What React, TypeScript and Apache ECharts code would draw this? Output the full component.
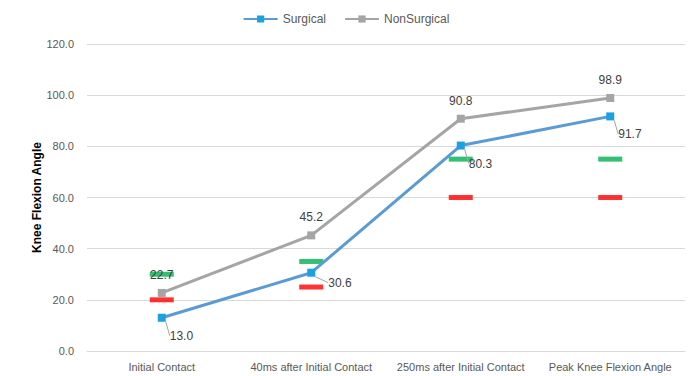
import React, { useEffect, useRef } from "react";
import * as echarts from "echarts";

const categories = [
  "Initial Contact",
  "40ms after Initial Contact",
  "250ms after Initial Contact",
  "Peak Knee Flexion Angle",
];
const surgical = [13.0, 30.6, 80.3, 91.7];
const nonSurgical = [22.7, 45.2, 90.8, 98.9];
const upperRef = [30, 35, 75, 75];
const lowerRef = [20, 25, 60, 60];
const yTicks = { min: 0, max: 120, interval: 20 };

const FONT = "'Liberation Sans', Arial, sans-serif";
const TEXT = "#595959";

export default function App() {
  const ref = useRef<HTMLDivElement>(null);

  useEffect(() => {
    if (!ref.current) return;
    const chart = echarts.init(ref.current, undefined, { renderer: "svg" });
    chart.setOption({
      animation: false,
      textStyle: { fontFamily: FONT },
      legend: {
        top: 8,
        left: "center",
        itemWidth: 34,
        itemHeight: 9,
        itemGap: 18,
        textStyle: { color: TEXT, fontSize: 12, fontFamily: FONT },
        data: ["Surgical", "NonSurgical"],
      },
      grid: { left: 87, right: 7, top: 44, bottom: 25 },
      xAxis: {
        type: "category",
        data: categories,
        axisLine: { lineStyle: { color: "#d9d9d9" } },
        axisTick: { show: false },
        axisLabel: { color: TEXT, fontSize: 11, margin: 10, interval: 0, fontFamily: FONT },
      },
      yAxis: {
        type: "value",
        min: yTicks.min,
        max: yTicks.max,
        interval: yTicks.interval,
        name: "Knee Flexion Angle",
        nameLocation: "middle",
        nameGap: 44,
        nameMoveOverlap: false,
        nameTextStyle: { color: "#000", fontSize: 12, fontWeight: "bold", fontFamily: FONT },
        axisLine: { show: false },
        axisTick: { show: false },
        axisLabel: {
          color: TEXT,
          fontSize: 11,
          margin: 13,
          fontFamily: FONT,
          formatter: (v: number) => v.toFixed(1),
        },
        splitLine: { lineStyle: { color: "#d9d9d9" } },
      },
      series: [
        {
          name: "upper",
          type: "scatter",
          data: upperRef,
          symbol: "rect",
          symbolSize: [24, 5],
          itemStyle: { color: "#00b050" },
          z: 1,
        },
        {
          name: "lower",
          type: "scatter",
          data: lowerRef,
          symbol: "rect",
          symbolSize: [24, 5],
          itemStyle: { color: "#ff0000" },
          z: 1,
        },
        {
          name: "NonSurgical",
          type: "line",
          data: nonSurgical,
          symbol: "rect",
          symbolSize: 8,
          lineStyle: { color: "#a5a5a5", width: 3 },
          itemStyle: { color: "#a5a5a5" },
          label: {
            show: true,
            position: "top",
            distance: 8,
            color: "#404040",
            fontSize: 12,
            fontFamily: FONT,
            formatter: (p: any) => p.value.toFixed(1),
          },
          z: 3,
        },
        {
          name: "Surgical",
          type: "line",
          data: surgical,
          symbol: "rect",
          symbolSize: 8,
          lineStyle: { color: "#5b9bd5", width: 3 },
          itemStyle: { color: "#1ba1e2" },
          label: {
            show: true,
            position: "right",
            distance: 4,
            color: "#404040",
            fontSize: 12,
            fontFamily: FONT,
            formatter: (p: any) => p.value.toFixed(1),
          },
          labelLine: { show: true, lineStyle: { color: "#a5a5a5", width: 1 } },
          labelLayout: (p: any) => {
            const offsets = [
              [0, 18],
              [9, 10],
              [0, 18],
              [0, 18],
            ];
            const o = offsets[p.dataIndex] || [0, 0];
            return { dx: o[0], dy: o[1] };
          },
          z: 4,
        },
      ],
    });
    return () => chart.dispose();
  }, []);

  return (
    <div
      ref={ref}
      style={{ position: "fixed", left: 0, top: 0, width: 692, height: 376, background: "#fff" }}
    />
  );
}
